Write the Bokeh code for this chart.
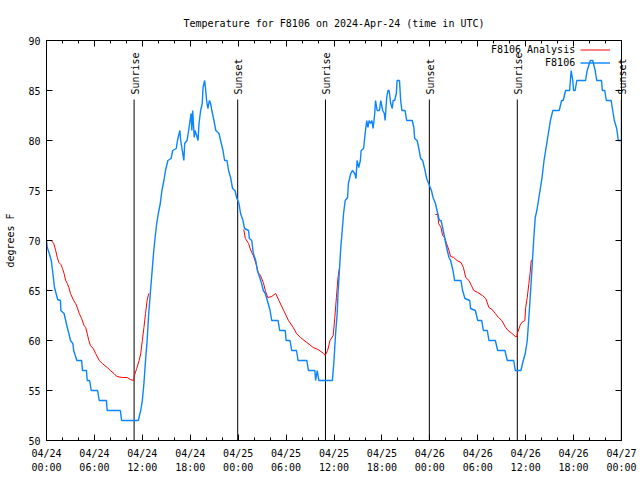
from bokeh.plotting import figure
from bokeh.models import (FixedTicker, LinearAxis, Range1d, Label,
                          Legend, LegendItem, CustomLabelingPolicy)
from bokeh.core.properties import value
from bokeh.embed import file_html
from bokeh.resources import INLINE

FONT = "DejaVu Sans Mono"

# ---------------- data (hours after 2024-04-24 00:00 UTC) ----------------
tick_hours = [0, 6, 12, 18, 24, 30, 36, 42, 48, 54, 60, 66, 72]
tick_labels = ["04/24\n00:00", "04/24\n06:00", "04/24\n12:00", "04/24\n18:00",
               "04/25\n00:00", "04/25\n06:00", "04/25\n12:00", "04/25\n18:00",
               "04/26\n00:00", "04/26\n06:00", "04/26\n12:00", "04/26\n18:00",
               "04/27\n00:00"]
minor_hours = list(range(0, 73, 2))
y_ticks = [50, 55, 60, 65, 70, 75, 80, 85, 90]

series_names = ["F8106 Analysis", "F8106"]

sun_hours = [10.97, 23.94, 34.93, 47.94, 58.95, 71.98]
sun_names = ["Sunrise", "Sunset", "Sunrise", "Sunset", "Sunrise", "Sunset"]

obs_hours = [0.0, 0.1, 0.35, 0.6, 0.8, 1.0, 1.2, 1.4, 1.75, 1.8, 2.2, 2.4, 2.6, 2.8, 3.0,
             3.3, 3.4, 3.8, 4.4, 4.5, 5.0, 5.1, 5.4, 5.6, 6.4, 6.6, 7.5, 7.6, 9.25, 9.4,
             11.5, 11.7, 11.8, 12.0, 12.2, 12.4, 12.6, 12.8, 13.0, 13.2, 13.4, 13.6, 13.8,
             14.0, 14.25, 14.45, 14.7, 14.9, 15.2, 15.6, 15.8, 16.25, 16.4, 16.7, 16.8,
             17.0, 17.2, 17.3, 17.6, 17.8, 18.1, 18.2, 18.3, 18.5, 18.6, 18.8, 18.97,
             19.1, 19.3, 19.5, 19.6, 19.8, 19.9, 20.05, 20.2, 20.4, 20.55, 20.7, 20.97,
             21.2, 21.6, 21.8, 22.1, 22.3, 22.6, 22.8, 23.05, 23.3, 23.6, 23.8, 24.1,
             24.3, 24.6, 24.8, 25.3, 25.4, 25.7, 25.9, 26.2, 26.4, 26.7, 26.9, 27.15,
             27.4, 27.65, 28.0, 28.2, 29.0, 29.2, 29.9, 30.0, 30.5, 30.7, 31.3, 31.5,
             32.6, 32.8, 33.6, 33.7, 33.9, 34.1, 35.8, 36.0, 36.2, 36.4, 36.5, 36.7,
             36.85, 37.0, 37.2, 37.4, 37.7, 37.8, 38.1, 38.3, 38.6, 38.75, 38.9, 39.1,
             39.3, 39.4, 39.7, 39.9, 40.1, 40.25, 40.4, 40.6, 40.75, 40.9, 41.1, 41.2,
             41.4, 41.7, 41.85, 42.1, 42.3, 42.4, 42.6, 42.75, 42.9, 43.1, 43.3, 43.4,
             43.6, 43.8, 43.9, 44.2, 44.35, 44.5, 44.9, 45.1, 45.8, 46.0, 46.1, 46.4,
             46.6, 46.85, 47.1, 47.4, 47.6, 47.95, 48.2, 48.4, 48.7, 48.9, 49.2, 49.4,
             49.6, 49.85, 50.1, 50.4, 50.6, 50.9, 51.1, 51.9, 52.1, 52.4, 53.0, 53.1,
             53.7, 54.0, 54.5, 54.7, 55.2, 55.4, 56.2, 56.5, 57.4, 57.7, 58.5, 58.7,
             59.4, 59.7, 59.95, 60.2, 60.4, 60.6, 60.8, 61.0, 61.2, 61.4, 61.6, 61.8,
             62.05, 62.3, 62.5, 62.7, 62.9, 63.1, 63.4, 64.2, 64.5, 64.7, 65.0, 65.5,
             65.6, 65.7, 65.9, 66.0, 66.2, 66.4, 67.5, 67.7, 68.1, 68.4, 68.7, 68.9,
             69.5, 69.6, 69.9, 70.1, 70.7, 70.9, 71.1, 71.4, 71.6, 72.0]
obs_temps = [70, 69.3, 68.7, 68, 66.7, 65.3, 64.7, 64.1, 64, 63, 62.7, 62, 61.3, 60.7, 60,
             59.7, 59, 58, 58, 57, 57, 56, 56, 55, 55, 54, 54, 53, 53, 52,
             52, 52.7, 53, 54, 55.7, 58, 60, 62.7, 64.7, 66.7, 68.7, 70.3, 71.7,
             72.7, 73.7, 75, 76, 77, 78, 78.2, 79, 79.2, 80, 81, 80,
             79, 78, 79.7, 80, 81, 82.7, 81, 83, 80.3, 81, 80.5, 80,
             81.7, 83, 83.7, 85.3, 86, 85.3, 84, 83.2, 84, 83.7, 83, 82,
             81, 80.7, 80, 79, 78, 78, 77, 76.3, 75.2, 75, 74.3, 73.7,
             72.7, 72, 71.2, 71, 70.2, 70, 68.7, 68, 67, 66.3, 65.8, 65,
             64.7, 64, 63, 62, 62, 61, 61, 60, 60, 59, 59, 58,
             58, 57, 57, 56, 57, 56, 56, 58, 60.7, 62.7, 64.7, 67.3,
             69.3, 70.7, 72.7, 74, 74.3, 75.7, 76.7, 77, 76.7, 76.2, 78, 77.3,
             78, 79, 79.2, 80.7, 82, 81.3, 82, 81.7, 82, 81.2, 82.7, 84,
             83, 83, 84, 83, 82.7, 82, 84.3, 85, 85, 83.7, 83.2, 84,
             84, 84.7, 86, 86, 84, 83, 83, 82, 82, 81.3, 80.2, 80,
             79.3, 78.2, 78, 77, 76.2, 75.5, 75, 74.3, 73.7, 73, 72, 72,
             71.3, 70.3, 69.3, 68.3, 68, 67, 66, 66, 65, 64.2, 64, 63.2,
             63, 62, 62, 61, 61, 60, 60, 59, 59, 58, 58, 57,
             57, 58, 58.7, 60, 62.3, 64.7, 67.3, 70, 72.3, 73, 74, 75,
             76.3, 78, 79, 80, 81, 82, 83, 83, 84, 84, 85, 85,
             86, 87, 86, 85, 85, 86, 86, 87, 88, 88, 87, 86,
             86, 85, 85, 84, 84, 83, 82, 81.2, 80, 80]

ana1_hours = [0.6, 0.9, 1.15, 1.35, 1.55, 1.8, 2.0, 2.2, 2.4, 2.6, 2.8, 3.0, 3.4, 3.65,
              3.85, 4.1, 4.4, 4.7, 4.9, 5.1, 5.3, 5.5, 5.85, 6.15, 6.6, 7.0, 7.6, 8.0,
              8.45, 8.8, 9.5, 10.1, 10.5, 10.9, 11.0, 11.3, 11.6, 11.8, 12.0, 12.2,
              12.4, 12.6, 12.8]
ana1_temps = [70, 69.7, 69, 68.3, 67.8, 67.6, 67.2, 66.7, 66, 65.7, 65.3, 64.7, 64, 63.7,
              63.3, 62.7, 62.2, 61.5, 61.3, 60.7, 60, 59.5, 59.2, 58.7, 58, 57.7, 57.3, 57,
              56.7, 56.4, 56.3, 56.3, 56.1, 56, 56.5, 57.2, 58, 58.7, 60, 61.3,
              62.7, 64, 64.7]
ana2_hours = [24.7, 24.9, 25.3, 25.5, 25.7, 25.9, 26.1, 26.3, 26.5, 26.8, 27.15, 27.4,
              27.7, 28.2, 28.7, 29.1, 29.7, 30.3, 30.9, 31.3, 31.8, 32.6, 33.4, 34.0,
              34.7, 34.9, 35.2, 35.5, 35.9, 36.1, 36.3, 36.5, 36.7]
ana2_temps = [71.1, 70.2, 69.7, 69.2, 68.8, 68.5, 68, 67.5, 66.8, 66.5, 65.8, 65,
              64.3, 64.4, 64.7, 64, 63, 62, 61.3, 60.7, 60.3, 59.8, 59.3, 59.1,
              58.7, 58.5, 59, 60, 60.5, 62.3, 64.3, 66.3, 67.3]
ana3_hours = [48.7, 49.0, 49.1, 49.4, 49.6, 49.85, 50.1, 50.4, 50.6, 51.0, 51.4, 51.9,
              52.2, 52.5, 52.9, 53.2, 53.5, 54.0, 54.6, 55.0, 55.4, 55.8, 56.2, 56.6,
              57.0, 57.5, 57.8, 58.3, 58.7, 58.9, 59.0, 59.3, 59.5, 59.9, 60.0, 60.2,
              60.4, 60.55, 60.7, 60.9]
ana3_temps = [72.6, 72.6, 71.7, 71.3, 70.5, 70.3, 69.7, 69, 68.4, 68.3, 68, 67.8,
              67.3, 66.3, 66, 65.5, 65, 64.8, 64.5, 64.2, 63.3, 63.1, 62.7, 62.3,
              62, 61.3, 61, 60.7, 60.4, 60.4, 60.8, 61.5, 61.8, 62, 63.3, 64.3,
              65.7, 66.7, 68, 68.1]

# ---------------- figure ----------------
p = figure(width=640, height=480, output_backend="svg", toolbar_location=None,
           x_range=Range1d(0, 72), y_range=Range1d(50, 90),
           min_border_left=46, min_border_right=19, min_border_top=40, min_border_bottom=40,
           title="Temperature for F8106 on 2024-Apr-24 (time in UTC)")
p.background_fill_color = "white"
p.border_fill_color = "white"
p.outline_line_color = "black"
p.outline_line_width = 1
p.xgrid.visible = False
p.ygrid.visible = False

p.title.align = "center"
p.title.text_font = FONT
p.title.text_font_size = "10px"
p.title.text_font_style = "normal"
p.title.text_color = "black"
p.title.standoff = 15

xt = FixedTicker(ticks=tick_hours, minor_ticks=minor_hours)
yt = FixedTicker(ticks=y_ticks, minor_ticks=[])

no_labels = CustomLabelingPolicy(code="""
for (const i of indices) { indices.unset(i) }
return indices
""")

def style_axis(ax, ticker, show_labels):
    ax.ticker = ticker
    ax.axis_line_color = "black"
    ax.major_tick_line_color = "black"
    ax.minor_tick_line_color = "black"
    ax.major_tick_in = 6
    ax.major_tick_out = 0
    ax.minor_tick_in = 3
    ax.minor_tick_out = 0
    ax.major_label_text_font = FONT
    ax.major_label_text_font_size = "10px"
    ax.major_label_text_color = "black"
    if not show_labels:
        ax.major_label_policy = no_labels
        ax.major_label_text_font_size = "1px"
        ax.major_label_standoff = 0

xa = p.xaxis[0]
style_axis(xa, xt, True)
xa.major_label_overrides = dict(zip(tick_hours, tick_labels))
xa.major_label_standoff = 7
xa.major_label_text_line_height = 1.3

ya = p.yaxis[0]
style_axis(ya, yt, True)
ya.major_label_standoff = 6
ya.axis_label = "degrees F"
ya.axis_label_text_font = FONT
ya.axis_label_text_font_size = "10px"
ya.axis_label_text_font_style = "normal"
ya.axis_label_text_color = "black"
ya.axis_label_standoff = 9

top_ax = LinearAxis()
style_axis(top_ax, xt, False)
p.add_layout(top_ax, "above")
right_ax = LinearAxis()
style_axis(right_ax, yt, False)
p.add_layout(right_ax, "right")

# sunrise / sunset markers
LINE_TOP = 84.1
p.segment(x0=sun_hours, y0=[y_ticks[0]] * len(sun_hours), x1=sun_hours,
          y1=[LINE_TOP] * len(sun_hours), line_color="black", line_width=1)
for h, name in zip(sun_hours, sun_names):
    lab = Label(x=h, y=LINE_TOP + 0.5, text=name, angle=90, angle_units="deg",
                text_align="left", text_baseline="middle", text_font=FONT,
                text_font_size="10px", text_color="black", x_offset=1)
    # a marker at the very edge of the time range would be cut by the frame
    place = "right" if h > p.x_range.end - 0.5 else "center"
    p.add_layout(lab, place)

# series
ana_r = p.multi_line(xs=[ana1_hours, ana2_hours, ana3_hours],
                     ys=[ana1_temps, ana2_temps, ana3_temps],
                     line_color="#ff0000", line_width=1)
obs_r = p.line(obs_hours, obs_temps, line_color="#0a84ff", line_width=1.4)

# gnuplot-style key: right-aligned names, sample line to their right
legend = Legend(items=[LegendItem(label=value(""), renderers=[ana_r]),
                       LegendItem(label=value(""), renderers=[obs_r])],
                location=(534, 371))
legend.background_fill_alpha = 0
legend.border_line_alpha = 0
legend.label_text_font = FONT
legend.label_text_font_size = "10px"
legend.glyph_width = 30
legend.glyph_height = 13
legend.label_height = 13
legend.label_width = 0
legend.label_standoff = 0
legend.spacing = 0
legend.padding = 0
legend.margin = 0
p.add_layout(legend)

KEY_X = 66.2
KEY_Y = [89.1, 87.8]
for name, ky in zip(series_names, KEY_Y):
    p.add_layout(Label(x=KEY_X, y=ky, text=name, text_align="right",
                       text_baseline="middle", text_font=FONT, text_font_size="10px",
                       text_color="black"))

open("out.html", "w").write(file_html(p, INLINE))
